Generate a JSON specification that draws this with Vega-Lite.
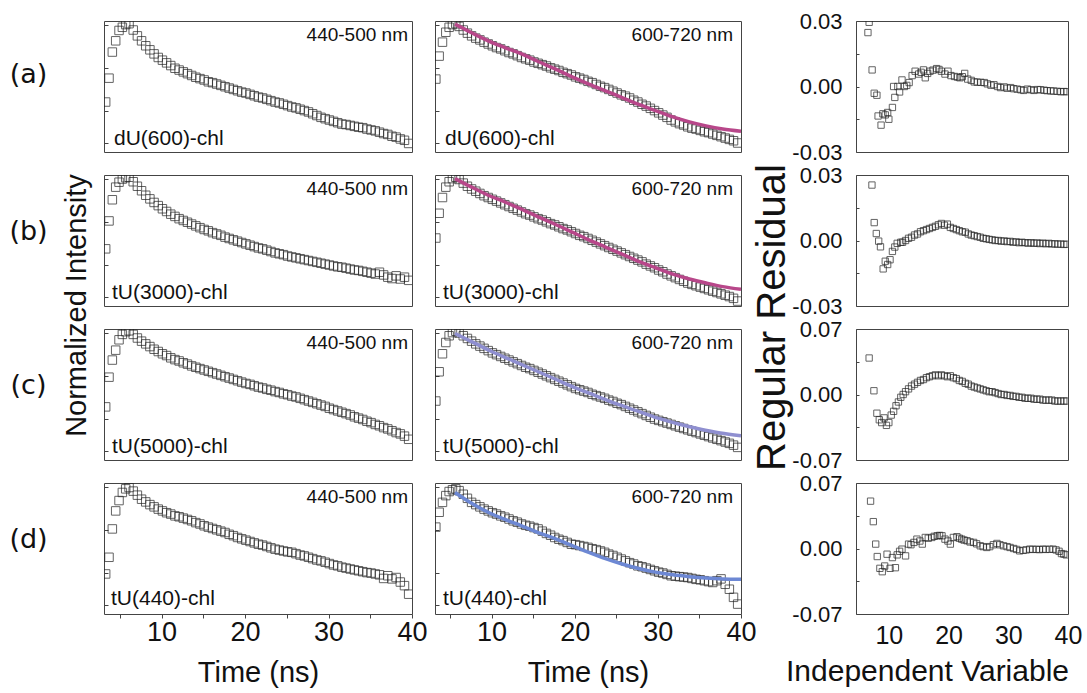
{
"$schema":"https://vega.github.io/schema/vega-lite/v6.json",
"padding":{"left":8,"top":9,"right":2,"bottom":0},
"background":"white",
"columns":4,
"bounds":"flush",
"align":"each",
"spacing":{"row":23,"column":23},
"config":{
 "font":"Liberation Sans",
 "view":{"stroke":"#444","strokeWidth":1},
 "axis":{"grid":false,"domain":false,"labelFlush":false,"labelColor":"#111","titleColor":"#111","tickColor":"#444","titleFontWeight":"normal","labelFont":"Liberation Sans","titleFont":"Liberation Sans"},
 "text":{"font":"Liberation Sans","color":"#111"}
},
"datasets":{
"a1":[{"t":3.3,"lgI":-1.8},{"t":3.7,"lgI":-1.27},{"t":4.1,"lgI":-0.69},{"t":4.5,"lgI":-0.44},{"t":4.9,"lgI":-0.21},{"t":5.3,"lgI":-0.14},{"t":5.7,"lgI":-0.08},{"t":6.1,"lgI":-0.06},{"t":6.6,"lgI":-0.2},{"t":7.1,"lgI":-0.33},{"t":7.6,"lgI":-0.44},{"t":8.1,"lgI":-0.55},{"t":8.6,"lgI":-0.64},{"t":9.1,"lgI":-0.73},{"t":9.6,"lgI":-0.81},{"t":10.1,"lgI":-0.87},{"t":10.6,"lgI":-0.93},{"t":11.1,"lgI":-0.99},{"t":11.6,"lgI":-1.05},{"t":12.1,"lgI":-1.09},{"t":12.6,"lgI":-1.13},{"t":13.1,"lgI":-1.17},{"t":13.6,"lgI":-1.21},{"t":14.1,"lgI":-1.25},{"t":14.6,"lgI":-1.28},{"t":15.1,"lgI":-1.31},{"t":15.6,"lgI":-1.35},{"t":16.1,"lgI":-1.37},{"t":16.6,"lgI":-1.4},{"t":17.1,"lgI":-1.43},{"t":17.6,"lgI":-1.46},{"t":18.1,"lgI":-1.49},{"t":18.6,"lgI":-1.52},{"t":19.1,"lgI":-1.55},{"t":19.6,"lgI":-1.58},{"t":20.1,"lgI":-1.6},{"t":20.6,"lgI":-1.63},{"t":21.1,"lgI":-1.66},{"t":21.6,"lgI":-1.69},{"t":22.1,"lgI":-1.71},{"t":22.6,"lgI":-1.74},{"t":23.1,"lgI":-1.77},{"t":23.6,"lgI":-1.8},{"t":24.1,"lgI":-1.82},{"t":24.6,"lgI":-1.85},{"t":25.1,"lgI":-1.88},{"t":25.6,"lgI":-1.91},{"t":26.1,"lgI":-1.93},{"t":26.6,"lgI":-1.96},{"t":27.1,"lgI":-1.99},{"t":27.6,"lgI":-2.02},{"t":28.1,"lgI":-2.06},{"t":28.6,"lgI":-2.1},{"t":29.1,"lgI":-2.14},{"t":29.6,"lgI":-2.17},{"t":30.1,"lgI":-2.2},{"t":30.6,"lgI":-2.23},{"t":31.1,"lgI":-2.26},{"t":31.6,"lgI":-2.29},{"t":32.1,"lgI":-2.3},{"t":32.6,"lgI":-2.32},{"t":33.1,"lgI":-2.34},{"t":33.6,"lgI":-2.36},{"t":34.1,"lgI":-2.37},{"t":34.6,"lgI":-2.4},{"t":35.1,"lgI":-2.42},{"t":35.6,"lgI":-2.44},{"t":36.1,"lgI":-2.47},{"t":36.6,"lgI":-2.5},{"t":37.1,"lgI":-2.52},{"t":37.6,"lgI":-2.56},{"t":38.1,"lgI":-2.58},{"t":38.6,"lgI":-2.62},{"t":39.1,"lgI":-2.65},{"t":39.6,"lgI":-2.72}],
"a2":[{"t":3.3,"lgI":-1.29},{"t":3.7,"lgI":-0.78},{"t":4.1,"lgI":-0.47},{"t":4.5,"lgI":-0.25},{"t":4.9,"lgI":-0.14},{"t":5.3,"lgI":-0.08},{"t":5.7,"lgI":-0.06},{"t":6.1,"lgI":-0.12},{"t":6.6,"lgI":-0.2},{"t":7.1,"lgI":-0.27},{"t":7.6,"lgI":-0.33},{"t":8.1,"lgI":-0.38},{"t":8.6,"lgI":-0.42},{"t":9.1,"lgI":-0.47},{"t":9.6,"lgI":-0.51},{"t":10.1,"lgI":-0.55},{"t":10.6,"lgI":-0.59},{"t":11.1,"lgI":-0.62},{"t":11.6,"lgI":-0.66},{"t":12.1,"lgI":-0.7},{"t":12.6,"lgI":-0.73},{"t":13.1,"lgI":-0.77},{"t":13.6,"lgI":-0.81},{"t":14.1,"lgI":-0.84},{"t":14.6,"lgI":-0.87},{"t":15.1,"lgI":-0.91},{"t":15.6,"lgI":-0.94},{"t":16.1,"lgI":-0.97},{"t":16.6,"lgI":-1.0},{"t":17.1,"lgI":-1.04},{"t":17.6,"lgI":-1.07},{"t":18.1,"lgI":-1.1},{"t":18.6,"lgI":-1.14},{"t":19.1,"lgI":-1.17},{"t":19.6,"lgI":-1.2},{"t":20.1,"lgI":-1.24},{"t":20.6,"lgI":-1.27},{"t":21.1,"lgI":-1.3},{"t":21.6,"lgI":-1.34},{"t":22.1,"lgI":-1.37},{"t":22.6,"lgI":-1.41},{"t":23.1,"lgI":-1.45},{"t":23.6,"lgI":-1.48},{"t":24.1,"lgI":-1.52},{"t":24.6,"lgI":-1.56},{"t":25.1,"lgI":-1.6},{"t":25.6,"lgI":-1.64},{"t":26.1,"lgI":-1.67},{"t":26.6,"lgI":-1.71},{"t":27.1,"lgI":-1.76},{"t":27.6,"lgI":-1.8},{"t":28.1,"lgI":-1.85},{"t":28.6,"lgI":-1.89},{"t":29.1,"lgI":-1.94},{"t":29.6,"lgI":-1.99},{"t":30.1,"lgI":-2.04},{"t":30.6,"lgI":-2.09},{"t":31.1,"lgI":-2.14},{"t":31.6,"lgI":-2.2},{"t":32.1,"lgI":-2.24},{"t":32.6,"lgI":-2.28},{"t":33.1,"lgI":-2.31},{"t":33.6,"lgI":-2.35},{"t":34.1,"lgI":-2.38},{"t":34.6,"lgI":-2.4},{"t":35.1,"lgI":-2.43},{"t":35.6,"lgI":-2.46},{"t":36.1,"lgI":-2.48},{"t":36.6,"lgI":-2.51},{"t":37.1,"lgI":-2.54},{"t":37.6,"lgI":-2.57},{"t":38.1,"lgI":-2.6},{"t":38.6,"lgI":-2.63},{"t":39.1,"lgI":-2.66},{"t":39.6,"lgI":-2.71}],
"a2fit":[{"t":5.6,"lgI":-0.07},{"t":7.6,"lgI":-0.26},{"t":9.6,"lgI":-0.44},{"t":11.6,"lgI":-0.59},{"t":13.6,"lgI":-0.73},{"t":15.6,"lgI":-0.9},{"t":17.7,"lgI":-1.07},{"t":19.7,"lgI":-1.24},{"t":21.7,"lgI":-1.4},{"t":23.7,"lgI":-1.55},{"t":25.7,"lgI":-1.7},{"t":27.7,"lgI":-1.85},{"t":29.7,"lgI":-1.99},{"t":31.8,"lgI":-2.13},{"t":33.8,"lgI":-2.24},{"t":35.8,"lgI":-2.33},{"t":37.8,"lgI":-2.4},{"t":40,"lgI":-2.45}],
"b1":[{"t":3.3,"lgI":-1.64},{"t":3.7,"lgI":-1.02},{"t":4.1,"lgI":-0.55},{"t":4.5,"lgI":-0.27},{"t":4.9,"lgI":-0.16},{"t":5.3,"lgI":-0.09},{"t":5.7,"lgI":-0.06},{"t":6.1,"lgI":-0.05},{"t":6.6,"lgI":-0.15},{"t":7.1,"lgI":-0.25},{"t":7.6,"lgI":-0.35},{"t":8.1,"lgI":-0.45},{"t":8.6,"lgI":-0.53},{"t":9.1,"lgI":-0.61},{"t":9.6,"lgI":-0.68},{"t":10.1,"lgI":-0.75},{"t":10.6,"lgI":-0.81},{"t":11.1,"lgI":-0.87},{"t":11.6,"lgI":-0.92},{"t":12.1,"lgI":-0.97},{"t":12.6,"lgI":-1.01},{"t":13.1,"lgI":-1.05},{"t":13.6,"lgI":-1.09},{"t":14.1,"lgI":-1.13},{"t":14.6,"lgI":-1.17},{"t":15.1,"lgI":-1.21},{"t":15.6,"lgI":-1.24},{"t":16.1,"lgI":-1.28},{"t":16.6,"lgI":-1.31},{"t":17.1,"lgI":-1.34},{"t":17.6,"lgI":-1.38},{"t":18.1,"lgI":-1.41},{"t":18.6,"lgI":-1.44},{"t":19.1,"lgI":-1.47},{"t":19.6,"lgI":-1.5},{"t":20.1,"lgI":-1.53},{"t":20.6,"lgI":-1.56},{"t":21.1,"lgI":-1.59},{"t":21.6,"lgI":-1.62},{"t":22.1,"lgI":-1.64},{"t":22.6,"lgI":-1.67},{"t":23.1,"lgI":-1.7},{"t":23.6,"lgI":-1.73},{"t":24.1,"lgI":-1.75},{"t":24.6,"lgI":-1.77},{"t":25.1,"lgI":-1.8},{"t":25.6,"lgI":-1.82},{"t":26.1,"lgI":-1.84},{"t":26.6,"lgI":-1.86},{"t":27.1,"lgI":-1.88},{"t":27.6,"lgI":-1.9},{"t":28.1,"lgI":-1.92},{"t":28.6,"lgI":-1.94},{"t":29.1,"lgI":-1.96},{"t":29.6,"lgI":-1.98},{"t":30.1,"lgI":-2.0},{"t":30.6,"lgI":-2.02},{"t":31.1,"lgI":-2.04},{"t":31.6,"lgI":-2.05},{"t":32.1,"lgI":-2.07},{"t":32.6,"lgI":-2.09},{"t":33.1,"lgI":-2.11},{"t":33.6,"lgI":-2.12},{"t":34.1,"lgI":-2.14},{"t":34.6,"lgI":-2.16},{"t":35.1,"lgI":-2.18},{"t":35.6,"lgI":-2.2},{"t":36.1,"lgI":-2.16},{"t":36.6,"lgI":-2.22},{"t":37.1,"lgI":-2.27},{"t":37.6,"lgI":-2.3},{"t":38.1,"lgI":-2.24},{"t":38.6,"lgI":-2.31},{"t":39.1,"lgI":-2.27},{"t":39.6,"lgI":-2.34}],
"b2":[{"t":3.3,"lgI":-1.4},{"t":3.7,"lgI":-0.85},{"t":4.1,"lgI":-0.5},{"t":4.5,"lgI":-0.27},{"t":4.9,"lgI":-0.15},{"t":5.3,"lgI":-0.08},{"t":5.7,"lgI":-0.05},{"t":6.1,"lgI":-0.1},{"t":6.6,"lgI":-0.18},{"t":7.1,"lgI":-0.25},{"t":7.6,"lgI":-0.31},{"t":8.1,"lgI":-0.36},{"t":8.6,"lgI":-0.41},{"t":9.1,"lgI":-0.46},{"t":9.6,"lgI":-0.5},{"t":10.1,"lgI":-0.54},{"t":10.6,"lgI":-0.58},{"t":11.1,"lgI":-0.62},{"t":11.6,"lgI":-0.66},{"t":12.1,"lgI":-0.7},{"t":12.6,"lgI":-0.74},{"t":13.1,"lgI":-0.78},{"t":13.6,"lgI":-0.82},{"t":14.1,"lgI":-0.86},{"t":14.6,"lgI":-0.89},{"t":15.1,"lgI":-0.93},{"t":15.6,"lgI":-0.97},{"t":16.1,"lgI":-1.0},{"t":16.6,"lgI":-1.04},{"t":17.1,"lgI":-1.08},{"t":17.6,"lgI":-1.11},{"t":18.1,"lgI":-1.15},{"t":18.6,"lgI":-1.19},{"t":19.1,"lgI":-1.22},{"t":19.6,"lgI":-1.26},{"t":20.1,"lgI":-1.3},{"t":20.6,"lgI":-1.34},{"t":21.1,"lgI":-1.37},{"t":21.6,"lgI":-1.41},{"t":22.1,"lgI":-1.45},{"t":22.6,"lgI":-1.49},{"t":23.1,"lgI":-1.53},{"t":23.6,"lgI":-1.57},{"t":24.1,"lgI":-1.61},{"t":24.6,"lgI":-1.65},{"t":25.1,"lgI":-1.69},{"t":25.6,"lgI":-1.73},{"t":26.1,"lgI":-1.77},{"t":26.6,"lgI":-1.81},{"t":27.1,"lgI":-1.85},{"t":27.6,"lgI":-1.89},{"t":28.1,"lgI":-1.93},{"t":28.6,"lgI":-1.98},{"t":29.1,"lgI":-2.02},{"t":29.6,"lgI":-2.06},{"t":30.1,"lgI":-2.11},{"t":30.6,"lgI":-2.15},{"t":31.1,"lgI":-2.2},{"t":31.6,"lgI":-2.24},{"t":32.1,"lgI":-2.28},{"t":32.6,"lgI":-2.32},{"t":33.1,"lgI":-2.36},{"t":33.6,"lgI":-2.4},{"t":34.1,"lgI":-2.43},{"t":34.6,"lgI":-2.46},{"t":35.1,"lgI":-2.49},{"t":35.6,"lgI":-2.52},{"t":36.1,"lgI":-2.55},{"t":36.6,"lgI":-2.58},{"t":37.1,"lgI":-2.61},{"t":37.6,"lgI":-2.64},{"t":38.1,"lgI":-2.67},{"t":38.6,"lgI":-2.7},{"t":39.1,"lgI":-2.74},{"t":39.6,"lgI":-2.8}],
"b2fit":[{"t":5.6,"lgI":-0.08},{"t":7.6,"lgI":-0.27},{"t":9.6,"lgI":-0.45},{"t":11.6,"lgI":-0.6},{"t":13.6,"lgI":-0.76},{"t":15.6,"lgI":-0.93},{"t":17.7,"lgI":-1.1},{"t":19.7,"lgI":-1.27},{"t":21.7,"lgI":-1.44},{"t":23.7,"lgI":-1.6},{"t":25.7,"lgI":-1.76},{"t":27.7,"lgI":-1.92},{"t":29.7,"lgI":-2.06},{"t":31.8,"lgI":-2.2},{"t":33.8,"lgI":-2.31},{"t":35.8,"lgI":-2.4},{"t":37.8,"lgI":-2.48},{"t":40,"lgI":-2.54}],
"c1":[{"t":3.3,"lgI":-1.73},{"t":3.7,"lgI":-1.07},{"t":4.1,"lgI":-0.69},{"t":4.5,"lgI":-0.47},{"t":4.9,"lgI":-0.24},{"t":5.3,"lgI":-0.12},{"t":5.7,"lgI":-0.06},{"t":6.1,"lgI":-0.04},{"t":6.6,"lgI":-0.12},{"t":7.1,"lgI":-0.2},{"t":7.6,"lgI":-0.27},{"t":8.1,"lgI":-0.33},{"t":8.6,"lgI":-0.39},{"t":9.1,"lgI":-0.45},{"t":9.6,"lgI":-0.5},{"t":10.1,"lgI":-0.55},{"t":10.6,"lgI":-0.59},{"t":11.1,"lgI":-0.64},{"t":11.6,"lgI":-0.68},{"t":12.1,"lgI":-0.71},{"t":12.6,"lgI":-0.75},{"t":13.1,"lgI":-0.78},{"t":13.6,"lgI":-0.82},{"t":14.1,"lgI":-0.85},{"t":14.6,"lgI":-0.88},{"t":15.1,"lgI":-0.91},{"t":15.6,"lgI":-0.94},{"t":16.1,"lgI":-0.97},{"t":16.6,"lgI":-1.0},{"t":17.1,"lgI":-1.03},{"t":17.6,"lgI":-1.06},{"t":18.1,"lgI":-1.09},{"t":18.6,"lgI":-1.12},{"t":19.1,"lgI":-1.15},{"t":19.6,"lgI":-1.18},{"t":20.1,"lgI":-1.21},{"t":20.6,"lgI":-1.23},{"t":21.1,"lgI":-1.26},{"t":21.6,"lgI":-1.29},{"t":22.1,"lgI":-1.31},{"t":22.6,"lgI":-1.34},{"t":23.1,"lgI":-1.36},{"t":23.6,"lgI":-1.39},{"t":24.1,"lgI":-1.41},{"t":24.6,"lgI":-1.44},{"t":25.1,"lgI":-1.46},{"t":25.6,"lgI":-1.49},{"t":26.1,"lgI":-1.51},{"t":26.6,"lgI":-1.54},{"t":27.1,"lgI":-1.57},{"t":27.6,"lgI":-1.6},{"t":28.1,"lgI":-1.63},{"t":28.6,"lgI":-1.66},{"t":29.1,"lgI":-1.69},{"t":29.6,"lgI":-1.72},{"t":30.1,"lgI":-1.76},{"t":30.6,"lgI":-1.79},{"t":31.1,"lgI":-1.82},{"t":31.6,"lgI":-1.85},{"t":32.1,"lgI":-1.88},{"t":32.6,"lgI":-1.91},{"t":33.1,"lgI":-1.95},{"t":33.6,"lgI":-1.98},{"t":34.1,"lgI":-2.01},{"t":34.6,"lgI":-2.05},{"t":35.1,"lgI":-2.08},{"t":35.6,"lgI":-2.12},{"t":36.1,"lgI":-2.15},{"t":36.6,"lgI":-2.19},{"t":37.1,"lgI":-2.22},{"t":37.6,"lgI":-2.26},{"t":38.1,"lgI":-2.3},{"t":38.6,"lgI":-2.33},{"t":39.1,"lgI":-2.38},{"t":39.6,"lgI":-2.45}],
"c2":[{"t":3.3,"lgI":-1.6},{"t":3.7,"lgI":-0.95},{"t":4.1,"lgI":-0.55},{"t":4.5,"lgI":-0.3},{"t":4.9,"lgI":-0.15},{"t":5.3,"lgI":-0.08},{"t":5.7,"lgI":-0.05},{"t":6.1,"lgI":-0.09},{"t":6.6,"lgI":-0.15},{"t":7.1,"lgI":-0.21},{"t":7.6,"lgI":-0.27},{"t":8.1,"lgI":-0.33},{"t":8.6,"lgI":-0.38},{"t":9.1,"lgI":-0.43},{"t":9.6,"lgI":-0.48},{"t":10.1,"lgI":-0.53},{"t":10.6,"lgI":-0.57},{"t":11.1,"lgI":-0.61},{"t":11.6,"lgI":-0.65},{"t":12.1,"lgI":-0.69},{"t":12.6,"lgI":-0.73},{"t":13.1,"lgI":-0.77},{"t":13.6,"lgI":-0.81},{"t":14.1,"lgI":-0.85},{"t":14.6,"lgI":-0.88},{"t":15.1,"lgI":-0.92},{"t":15.6,"lgI":-0.96},{"t":16.1,"lgI":-1.0},{"t":16.6,"lgI":-1.04},{"t":17.1,"lgI":-1.08},{"t":17.6,"lgI":-1.12},{"t":18.1,"lgI":-1.16},{"t":18.6,"lgI":-1.2},{"t":19.1,"lgI":-1.24},{"t":19.6,"lgI":-1.28},{"t":20.1,"lgI":-1.32},{"t":20.6,"lgI":-1.35},{"t":21.1,"lgI":-1.38},{"t":21.6,"lgI":-1.41},{"t":22.1,"lgI":-1.45},{"t":22.6,"lgI":-1.48},{"t":23.1,"lgI":-1.51},{"t":23.6,"lgI":-1.54},{"t":24.1,"lgI":-1.58},{"t":24.6,"lgI":-1.61},{"t":25.1,"lgI":-1.65},{"t":25.6,"lgI":-1.68},{"t":26.1,"lgI":-1.72},{"t":26.6,"lgI":-1.76},{"t":27.1,"lgI":-1.8},{"t":27.6,"lgI":-1.84},{"t":28.1,"lgI":-1.88},{"t":28.6,"lgI":-1.92},{"t":29.1,"lgI":-1.96},{"t":29.6,"lgI":-2.0},{"t":30.1,"lgI":-2.03},{"t":30.6,"lgI":-2.06},{"t":31.1,"lgI":-2.09},{"t":31.6,"lgI":-2.12},{"t":32.1,"lgI":-2.15},{"t":32.6,"lgI":-2.18},{"t":33.1,"lgI":-2.21},{"t":33.6,"lgI":-2.24},{"t":34.1,"lgI":-2.27},{"t":34.6,"lgI":-2.3},{"t":35.1,"lgI":-2.33},{"t":35.6,"lgI":-2.36},{"t":36.1,"lgI":-2.39},{"t":36.6,"lgI":-2.42},{"t":37.1,"lgI":-2.45},{"t":37.6,"lgI":-2.48},{"t":38.1,"lgI":-2.51},{"t":38.6,"lgI":-2.54},{"t":39.1,"lgI":-2.58},{"t":39.6,"lgI":-2.63}],
"c2fit":[{"t":5.6,"lgI":-0.1},{"t":7.6,"lgI":-0.28},{"t":10,"lgI":-0.5},{"t":12.5,"lgI":-0.7},{"t":15,"lgI":-0.9},{"t":17.5,"lgI":-1.1},{"t":20,"lgI":-1.3},{"t":22.5,"lgI":-1.48},{"t":25,"lgI":-1.66},{"t":27.5,"lgI":-1.82},{"t":30,"lgI":-1.98},{"t":32.5,"lgI":-2.11},{"t":35,"lgI":-2.22},{"t":37.5,"lgI":-2.31},{"t":40,"lgI":-2.37}],
"d1":[{"t":3.3,"lgI":-2.02},{"t":3.7,"lgI":-1.65},{"t":4.1,"lgI":-1.02},{"t":4.5,"lgI":-0.62},{"t":4.9,"lgI":-0.39},{"t":5.3,"lgI":-0.21},{"t":5.7,"lgI":-0.13},{"t":6.1,"lgI":-0.1},{"t":6.6,"lgI":-0.18},{"t":7.1,"lgI":-0.27},{"t":7.6,"lgI":-0.36},{"t":8.1,"lgI":-0.42},{"t":8.6,"lgI":-0.48},{"t":9.1,"lgI":-0.53},{"t":9.6,"lgI":-0.58},{"t":10.1,"lgI":-0.62},{"t":10.6,"lgI":-0.66},{"t":11.1,"lgI":-0.69},{"t":11.6,"lgI":-0.73},{"t":12.1,"lgI":-0.75},{"t":12.6,"lgI":-0.78},{"t":13.1,"lgI":-0.81},{"t":13.6,"lgI":-0.84},{"t":14.1,"lgI":-0.88},{"t":14.6,"lgI":-0.91},{"t":15.1,"lgI":-0.95},{"t":15.6,"lgI":-0.98},{"t":16.1,"lgI":-1.01},{"t":16.6,"lgI":-1.04},{"t":17.1,"lgI":-1.07},{"t":17.6,"lgI":-1.1},{"t":18.1,"lgI":-1.14},{"t":18.6,"lgI":-1.17},{"t":19.1,"lgI":-1.21},{"t":19.6,"lgI":-1.24},{"t":20.1,"lgI":-1.27},{"t":20.6,"lgI":-1.3},{"t":21.1,"lgI":-1.33},{"t":21.6,"lgI":-1.36},{"t":22.1,"lgI":-1.38},{"t":22.6,"lgI":-1.41},{"t":23.1,"lgI":-1.44},{"t":23.6,"lgI":-1.47},{"t":24.1,"lgI":-1.49},{"t":24.6,"lgI":-1.51},{"t":25.1,"lgI":-1.53},{"t":25.6,"lgI":-1.54},{"t":26.1,"lgI":-1.57},{"t":26.6,"lgI":-1.6},{"t":27.1,"lgI":-1.62},{"t":27.6,"lgI":-1.65},{"t":28.1,"lgI":-1.68},{"t":28.6,"lgI":-1.71},{"t":29.1,"lgI":-1.73},{"t":29.6,"lgI":-1.76},{"t":30.1,"lgI":-1.79},{"t":30.6,"lgI":-1.82},{"t":31.1,"lgI":-1.84},{"t":31.6,"lgI":-1.87},{"t":32.1,"lgI":-1.89},{"t":32.6,"lgI":-1.91},{"t":33.1,"lgI":-1.93},{"t":33.6,"lgI":-1.95},{"t":34.1,"lgI":-1.97},{"t":34.6,"lgI":-1.99},{"t":35.1,"lgI":-2.0},{"t":35.6,"lgI":-2.02},{"t":36.1,"lgI":-2.04},{"t":36.6,"lgI":-2.12},{"t":37.1,"lgI":-2.06},{"t":37.6,"lgI":-2.13},{"t":38.1,"lgI":-2.1},{"t":38.6,"lgI":-2.2},{"t":39.1,"lgI":-2.28},{"t":39.6,"lgI":-2.47}],
"d2":[{"t":3.3,"lgI":-0.98},{"t":3.7,"lgI":-0.65},{"t":4.1,"lgI":-0.43},{"t":4.5,"lgI":-0.28},{"t":4.9,"lgI":-0.19},{"t":5.3,"lgI":-0.15},{"t":5.7,"lgI":-0.13},{"t":6.1,"lgI":-0.17},{"t":6.6,"lgI":-0.25},{"t":7.1,"lgI":-0.34},{"t":7.6,"lgI":-0.43},{"t":8.1,"lgI":-0.48},{"t":8.6,"lgI":-0.53},{"t":9.1,"lgI":-0.58},{"t":9.6,"lgI":-0.62},{"t":10.1,"lgI":-0.66},{"t":10.6,"lgI":-0.69},{"t":11.1,"lgI":-0.73},{"t":11.6,"lgI":-0.76},{"t":12.1,"lgI":-0.8},{"t":12.6,"lgI":-0.84},{"t":13.1,"lgI":-0.87},{"t":13.6,"lgI":-0.91},{"t":14.1,"lgI":-0.94},{"t":14.6,"lgI":-0.96},{"t":15.1,"lgI":-0.99},{"t":15.6,"lgI":-1.02},{"t":16.1,"lgI":-1.07},{"t":16.6,"lgI":-1.12},{"t":17.1,"lgI":-1.16},{"t":17.6,"lgI":-1.21},{"t":18.1,"lgI":-1.25},{"t":18.6,"lgI":-1.28},{"t":19.1,"lgI":-1.32},{"t":19.6,"lgI":-1.36},{"t":20.1,"lgI":-1.37},{"t":20.6,"lgI":-1.39},{"t":21.1,"lgI":-1.41},{"t":21.6,"lgI":-1.43},{"t":22.1,"lgI":-1.46},{"t":22.6,"lgI":-1.48},{"t":23.1,"lgI":-1.51},{"t":23.6,"lgI":-1.54},{"t":24.1,"lgI":-1.58},{"t":24.6,"lgI":-1.61},{"t":25.1,"lgI":-1.65},{"t":25.6,"lgI":-1.69},{"t":26.1,"lgI":-1.73},{"t":26.6,"lgI":-1.77},{"t":27.1,"lgI":-1.8},{"t":27.6,"lgI":-1.84},{"t":28.1,"lgI":-1.86},{"t":28.6,"lgI":-1.89},{"t":29.1,"lgI":-1.92},{"t":29.6,"lgI":-1.95},{"t":30.1,"lgI":-1.98},{"t":30.6,"lgI":-2.0},{"t":31.1,"lgI":-2.03},{"t":31.6,"lgI":-2.06},{"t":32.1,"lgI":-2.07},{"t":32.6,"lgI":-2.08},{"t":33.1,"lgI":-2.09},{"t":33.6,"lgI":-2.1},{"t":34.1,"lgI":-2.12},{"t":34.6,"lgI":-2.14},{"t":35.1,"lgI":-2.15},{"t":35.6,"lgI":-2.17},{"t":36.1,"lgI":-2.19},{"t":36.6,"lgI":-2.21},{"t":37.1,"lgI":-2.17},{"t":37.6,"lgI":-2.13},{"t":38.1,"lgI":-2.25},{"t":38.6,"lgI":-2.36},{"t":39.1,"lgI":-2.54},{"t":39.6,"lgI":-2.69}],
"d2fit":[{"t":5.6,"lgI":-0.21},{"t":7.6,"lgI":-0.45},{"t":9.6,"lgI":-0.65},{"t":11.6,"lgI":-0.81},{"t":13.6,"lgI":-0.95},{"t":15.6,"lgI":-1.1},{"t":17.7,"lgI":-1.24},{"t":19.7,"lgI":-1.39},{"t":21.7,"lgI":-1.54},{"t":23.7,"lgI":-1.68},{"t":25.7,"lgI":-1.8},{"t":27.7,"lgI":-1.9},{"t":29.7,"lgI":-1.98},{"t":31.8,"lgI":-2.04},{"t":33.8,"lgI":-2.08},{"t":35.8,"lgI":-2.11},{"t":37.8,"lgI":-2.13},{"t":40,"lgI":-2.14}],
"a3":[{"t":6.5,"res":0.0247},{"t":6.7,"res":0.0294},{"t":7.2,"res":0.0076},{"t":7.55,"res":-0.0031},{"t":8.0,"res":-0.004},{"t":8.2,"res":-0.0135},{"t":8.7,"res":-0.0177},{"t":9.0,"res":-0.0125},{"t":9.4,"res":-0.013},{"t":9.8,"res":-0.0119},{"t":10.0,"res":-0.015},{"t":10.6,"res":-0.0096},{"t":10.8,"res":0.0},{"t":11.0,"res":-0.005},{"t":11.5,"res":0.0},{"t":11.8,"res":-0.0025},{"t":12.2,"res":0.003},{"t":12.6,"res":0.0},{"t":13.0,"res":0.0005},{"t":13.4,"res":0.0018},{"t":13.9,"res":0.005},{"t":14.4,"res":0.007},{"t":15.0,"res":0.0057},{"t":15.4,"res":0.0065},{"t":15.8,"res":0.0076},{"t":16.1,"res":0.004},{"t":16.5,"res":0.006},{"t":16.9,"res":0.007},{"t":17.4,"res":0.0075},{"t":18.0,"res":0.0082},{"t":18.4,"res":0.0078},{"t":18.8,"res":0.007},{"t":19.4,"res":0.0057},{"t":19.9,"res":0.007},{"t":20.4,"res":0.005},{"t":21.0,"res":0.0046},{"t":21.5,"res":0.0043},{"t":21.9,"res":0.004},{"t":22.3,"res":0.0045},{"t":22.7,"res":0.006},{"t":23.2,"res":0.0034},{"t":23.8,"res":0.0028},{"t":24.3,"res":0.0021},{"t":24.8,"res":0.002},{"t":25.4,"res":0.0019},{"t":26.0,"res":0.0018},{"t":26.5,"res":0.0012},{"t":27.1,"res":0.0006},{"t":27.6,"res":0.0008},{"t":28.2,"res":0.0},{"t":28.7,"res":-0.0005},{"t":29.3,"res":-0.0002},{"t":29.8,"res":-0.0008},{"t":30.4,"res":-0.0005},{"t":30.9,"res":-0.001},{"t":31.5,"res":-0.0012},{"t":32.1,"res":-0.0015},{"t":32.6,"res":-0.0018},{"t":33.2,"res":-0.0012},{"t":33.8,"res":-0.0015},{"t":34.3,"res":-0.0018},{"t":34.9,"res":-0.0014},{"t":35.4,"res":-0.0015},{"t":36.0,"res":-0.0017},{"t":36.5,"res":-0.0019},{"t":37.1,"res":-0.002},{"t":37.6,"res":-0.0021},{"t":38.2,"res":-0.0022},{"t":38.8,"res":-0.0024},{"t":39.3,"res":-0.0023},{"t":39.8,"res":-0.0024}],
"b3":[{"t":7.17,"res":0.0254},{"t":7.55,"res":0.0082},{"t":7.9,"res":0.0032},{"t":8.3,"res":-0.0003},{"t":8.6,"res":-0.0029},{"t":9.05,"res":-0.013},{"t":9.4,"res":-0.0095},{"t":9.8,"res":-0.011},{"t":10.2,"res":-0.0088},{"t":10.6,"res":-0.005},{"t":11.0,"res":-0.003},{"t":11.4,"res":-0.0013},{"t":12.0,"res":-0.0008},{"t":12.3,"res":-0.0008},{"t":12.8,"res":0.0},{"t":13.3,"res":0.001},{"t":13.8,"res":0.0015},{"t":14.3,"res":0.0025},{"t":14.8,"res":0.003},{"t":15.3,"res":0.004},{"t":15.8,"res":0.0045},{"t":16.3,"res":0.005},{"t":16.8,"res":0.0055},{"t":17.3,"res":0.006},{"t":17.8,"res":0.0065},{"t":18.3,"res":0.0072},{"t":18.8,"res":0.0078},{"t":19.3,"res":0.007},{"t":19.8,"res":0.0075},{"t":20.3,"res":0.006},{"t":20.8,"res":0.0055},{"t":21.3,"res":0.005},{"t":21.8,"res":0.0045},{"t":22.3,"res":0.004},{"t":22.8,"res":0.0038},{"t":23.3,"res":0.003},{"t":23.8,"res":0.0025},{"t":24.3,"res":0.0022},{"t":24.8,"res":0.0018},{"t":25.3,"res":0.0015},{"t":25.8,"res":0.001},{"t":26.3,"res":0.0008},{"t":26.8,"res":0.0005},{"t":27.3,"res":0.0003},{"t":27.8,"res":0.0},{"t":28.3,"res":0.0},{"t":28.8,"res":-0.0003},{"t":29.3,"res":-0.0002},{"t":29.8,"res":-0.0005},{"t":30.3,"res":-0.0004},{"t":30.8,"res":-0.0008},{"t":31.3,"res":-0.0006},{"t":31.8,"res":-0.001},{"t":32.3,"res":-0.0008},{"t":32.8,"res":-0.001},{"t":33.3,"res":-0.0012},{"t":33.8,"res":-0.001},{"t":34.3,"res":-0.0013},{"t":34.8,"res":-0.0011},{"t":35.3,"res":-0.0014},{"t":35.8,"res":-0.0012},{"t":36.3,"res":-0.0015},{"t":36.8,"res":-0.0013},{"t":37.3,"res":-0.0016},{"t":37.8,"res":-0.0015},{"t":38.3,"res":-0.0017},{"t":38.8,"res":-0.0016},{"t":39.3,"res":-0.0018},{"t":39.8,"res":-0.0017}],
"c3":[{"t":6.7,"res":0.039},{"t":7.5,"res":0.004},{"t":8.0,"res":-0.02},{"t":8.4,"res":-0.027},{"t":8.8,"res":-0.03},{"t":9.2,"res":-0.025},{"t":9.6,"res":-0.033},{"t":10.0,"res":-0.03},{"t":10.4,"res":-0.022},{"t":10.8,"res":-0.018},{"t":11.2,"res":-0.012},{"t":11.6,"res":-0.008},{"t":12.0,"res":-0.003},{"t":12.4,"res":0.0},{"t":12.8,"res":0.003},{"t":13.3,"res":0.006},{"t":13.8,"res":0.009},{"t":14.3,"res":0.011},{"t":14.8,"res":0.013},{"t":15.3,"res":0.015},{"t":15.8,"res":0.016},{"t":16.3,"res":0.018},{"t":16.8,"res":0.019},{"t":17.3,"res":0.02},{"t":17.8,"res":0.021},{"t":18.3,"res":0.02},{"t":18.8,"res":0.021},{"t":19.3,"res":0.02},{"t":19.8,"res":0.019},{"t":20.3,"res":0.02},{"t":20.8,"res":0.018},{"t":21.3,"res":0.017},{"t":21.8,"res":0.015},{"t":22.3,"res":0.014},{"t":22.8,"res":0.012},{"t":23.3,"res":0.011},{"t":23.8,"res":0.009},{"t":24.3,"res":0.008},{"t":24.8,"res":0.007},{"t":25.3,"res":0.006},{"t":25.8,"res":0.005},{"t":26.3,"res":0.004},{"t":26.8,"res":0.003},{"t":27.3,"res":0.003},{"t":27.8,"res":0.002},{"t":28.3,"res":0.001},{"t":28.8,"res":0.0},{"t":29.3,"res":0.0},{"t":29.8,"res":-0.001},{"t":30.3,"res":-0.001},{"t":30.8,"res":-0.002},{"t":31.3,"res":-0.002},{"t":31.8,"res":-0.003},{"t":32.3,"res":-0.003},{"t":32.8,"res":-0.004},{"t":33.3,"res":-0.004},{"t":33.8,"res":-0.004},{"t":34.3,"res":-0.005},{"t":34.8,"res":-0.005},{"t":35.3,"res":-0.005},{"t":35.8,"res":-0.006},{"t":36.3,"res":-0.006},{"t":36.8,"res":-0.006},{"t":37.3,"res":-0.006},{"t":37.8,"res":-0.007},{"t":38.3,"res":-0.007},{"t":38.8,"res":-0.007},{"t":39.3,"res":-0.007},{"t":39.8,"res":-0.007}],
"d3":[{"t":6.94,"res":0.0506},{"t":7.4,"res":0.0287},{"t":7.8,"res":0.0047},{"t":8.06,"res":-0.0086},{"t":8.5,"res":-0.0212},{"t":8.9,"res":-0.0248},{"t":9.3,"res":-0.0187},{"t":9.7,"res":-0.0061},{"t":10.2,"res":-0.0212},{"t":10.6,"res":-0.0097},{"t":11.1,"res":-0.0205},{"t":11.4,"res":-0.0068},{"t":11.8,"res":-0.003},{"t":12.2,"res":-0.0007},{"t":12.8,"res":-0.0079},{"t":13.3,"res":0.0047},{"t":13.7,"res":0.004},{"t":14.2,"res":0.0065},{"t":14.7,"res":0.01},{"t":15.2,"res":0.008},{"t":15.6,"res":0.0047},{"t":16.1,"res":0.0118},{"t":16.6,"res":0.011},{"t":17.2,"res":0.0118},{"t":17.6,"res":0.013},{"t":18.1,"res":0.0136},{"t":18.5,"res":0.014},{"t":18.9,"res":0.0136},{"t":19.4,"res":0.01},{"t":19.9,"res":0.008},{"t":20.3,"res":0.0047},{"t":20.8,"res":0.0118},{"t":21.4,"res":0.0126},{"t":21.8,"res":0.011},{"t":22.2,"res":0.01},{"t":22.6,"res":0.009},{"t":23.1,"res":0.0083},{"t":23.6,"res":0.007},{"t":24.2,"res":0.0065},{"t":24.7,"res":0.005},{"t":25.3,"res":0.0029},{"t":25.8,"res":0.002},{"t":26.4,"res":0.0011},{"t":26.9,"res":0.002},{"t":27.5,"res":0.004},{"t":28.1,"res":0.0054},{"t":28.6,"res":0.004},{"t":29.2,"res":0.0029},{"t":29.8,"res":0.002},{"t":30.3,"res":0.0011},{"t":30.9,"res":0.0},{"t":31.4,"res":-0.001},{"t":31.9,"res":-0.0025},{"t":32.5,"res":-0.002},{"t":33.0,"res":-0.0015},{"t":33.6,"res":-0.0007},{"t":34.1,"res":-0.001},{"t":34.7,"res":-0.0008},{"t":35.2,"res":-0.0012},{"t":35.8,"res":-0.0007},{"t":36.3,"res":-0.001},{"t":36.9,"res":-0.0008},{"t":37.5,"res":-0.0007},{"t":38.0,"res":-0.0015},{"t":38.5,"res":-0.003},{"t":38.9,"res":-0.0054},{"t":39.3,"res":-0.006},{"t":39.7,"res":-0.0068}]
},
"concat":[
{"width":308,"height":131,"layer":[
 {"data":{"name":"a1"},"mark":{"type":"point","shape":"square","filled":false,"size":72,"stroke":"#222","strokeWidth":1,"clip":true},
  "encoding":{"x":{"field":"t","type":"quantitative","scale":{"domain":[3.1,40],"nice":false,"zero":false},"axis":null},
   "y":{"field":"lgI","type":"quantitative","scale":{"domain":[-2.91,0],"nice":false,"zero":false},"axis":{"values":[0,-0.046,-0.097,-0.155,-0.222,-0.301,-0.398,-0.523,-0.699,-1,-1.046,-1.097,-1.155,-1.222,-1.301,-1.398,-1.523,-1.699,-2,-2.046,-2.097,-2.155,-2.222,-2.301,-2.398,-2.523,-2.699],"labels":false,"tickSize":-4,"title":"(a)","titleAngle":0,"titleX":-76,"titleY":53,"titleAlign":"center","titleBaseline":"middle","titleFontSize":27,"titleFont":"DejaVu Sans"}}}},
 {"data":{"values":[{"label":"440-500 nm"}]},"mark":{"type":"text","align":"right","baseline":"top","dx":-4,"dy":5,"fontSize":19},
  "encoding":{"x":{"datum":40,"type":"quantitative","axis":null},"y":{"datum":0,"type":"quantitative"},"text":{"field":"label"}}},
 {"data":{"values":[{"label":"dU(600)-chl"}]},"mark":{"type":"text","align":"left","baseline":"alphabetic","dx":10,"dy":-7,"fontSize":21},
  "encoding":{"x":{"datum":3.1,"type":"quantitative","axis":null},"y":{"datum":-2.91,"type":"quantitative"},"text":{"field":"label"}}}
]},
{"width":306,"height":131,"layer":[
 {"data":{"name":"a2"},"mark":{"type":"point","shape":"square","filled":false,"size":72,"stroke":"#222","strokeWidth":1,"clip":true},
  "encoding":{"x":{"field":"t","type":"quantitative","scale":{"domain":[3.2,40],"nice":false,"zero":false},"axis":null},
   "y":{"field":"lgI","type":"quantitative","scale":{"domain":[-2.91,0],"nice":false,"zero":false},"axis":{"values":[0,-0.046,-0.097,-0.155,-0.222,-0.301,-0.398,-0.523,-0.699,-1,-1.046,-1.097,-1.155,-1.222,-1.301,-1.398,-1.523,-1.699,-2,-2.046,-2.097,-2.155,-2.222,-2.301,-2.398,-2.523,-2.699],"labels":false,"tickSize":-4,"title":null}}}},
 {"data":{"name":"a2fit"},"mark":{"type":"line","color":"#b8478a","strokeWidth":3.5,"interpolate":"monotone","clip":true},
  "encoding":{"x":{"field":"t","type":"quantitative","axis":null},"y":{"field":"lgI","type":"quantitative"}}},
 {"data":{"values":[{"label":"600-720 nm"}]},"mark":{"type":"text","align":"right","baseline":"top","dx":-8,"dy":5,"fontSize":19},
  "encoding":{"x":{"datum":40,"type":"quantitative","axis":null},"y":{"datum":0,"type":"quantitative"},"text":{"field":"label"}}},
 {"data":{"values":[{"label":"dU(600)-chl"}]},"mark":{"type":"text","align":"left","baseline":"alphabetic","dx":10,"dy":-7,"fontSize":21},
  "encoding":{"x":{"datum":3.2,"type":"quantitative","axis":null},"y":{"datum":-2.91,"type":"quantitative"},"text":{"field":"label"}}}
]},
{"width":69,"height":131,"data":{"values":[]},"mark":"point","view":{"stroke":null}},
{"width":212,"height":131,"data":{"name":"a3"},"mark":{"type":"point","shape":"square","filled":false,"size":40,"stroke":"#222","strokeWidth":1,"clip":true},
 "encoding":{"x":{"field":"t","type":"quantitative","scale":{"domain":[4.5,40],"nice":false,"zero":false},"axis":null},
  "y":{"field":"res","type":"quantitative","scale":{"domain":[-0.03,0.03],"nice":false,"zero":false},"axis":{"values":[-0.03,-0.015,0,0.015,0.03],"labelExpr":"datum.value === 0.015 || datum.value === -0.015 ? '' : (datum.value < 0 ? '-' : '') + format(abs(datum.value), '.2f')","tickSize":-3,"labelPadding":17,"labelFontSize":22,"title":null}}}},

{"width":308,"height":131,"layer":[
 {"data":{"name":"b1"},"mark":{"type":"point","shape":"square","filled":false,"size":72,"stroke":"#222","strokeWidth":1,"clip":true},
  "encoding":{"x":{"field":"t","type":"quantitative","scale":{"domain":[3.1,40],"nice":false,"zero":false},"axis":null},
   "y":{"field":"lgI","type":"quantitative","scale":{"domain":[-2.91,0],"nice":false,"zero":false},"axis":{"values":[0,-0.046,-0.097,-0.155,-0.222,-0.301,-0.398,-0.523,-0.699,-1,-1.046,-1.097,-1.155,-1.222,-1.301,-1.398,-1.523,-1.699,-2,-2.046,-2.097,-2.155,-2.222,-2.301,-2.398,-2.523,-2.699],"labels":false,"tickSize":-4,"title":"(b)","titleAngle":0,"titleX":-76,"titleY":56,"titleAlign":"center","titleBaseline":"middle","titleFontSize":27,"titleFont":"DejaVu Sans"}}}},
 {"data":{"values":[{"label":"440-500 nm"}]},"mark":{"type":"text","align":"right","baseline":"top","dx":-4,"dy":5,"fontSize":19},
  "encoding":{"x":{"datum":40,"type":"quantitative","axis":null},"y":{"datum":0,"type":"quantitative"},"text":{"field":"label"}}},
 {"data":{"values":[{"label":"tU(3000)-chl"}]},"mark":{"type":"text","align":"left","baseline":"alphabetic","dx":8,"dy":-7,"fontSize":21},
  "encoding":{"x":{"datum":3.1,"type":"quantitative","axis":null},"y":{"datum":-2.91,"type":"quantitative"},"text":{"field":"label"}}}
]},
{"width":306,"height":131,"layer":[
 {"data":{"name":"b2"},"mark":{"type":"point","shape":"square","filled":false,"size":72,"stroke":"#222","strokeWidth":1,"clip":true},
  "encoding":{"x":{"field":"t","type":"quantitative","scale":{"domain":[3.2,40],"nice":false,"zero":false},"axis":null},
   "y":{"field":"lgI","type":"quantitative","scale":{"domain":[-2.91,0],"nice":false,"zero":false},"axis":{"values":[0,-0.046,-0.097,-0.155,-0.222,-0.301,-0.398,-0.523,-0.699,-1,-1.046,-1.097,-1.155,-1.222,-1.301,-1.398,-1.523,-1.699,-2,-2.046,-2.097,-2.155,-2.222,-2.301,-2.398,-2.523,-2.699],"labels":false,"tickSize":-4,"title":"Normalized Intensity","titleAngle":270,"titleX":-359,"titleY":130,"titleAlign":"center","titleBaseline":"middle","titleFontSize":29}}}},
 {"data":{"name":"b2fit"},"mark":{"type":"line","color":"#b8478a","strokeWidth":3.5,"interpolate":"monotone","clip":true},
  "encoding":{"x":{"field":"t","type":"quantitative","axis":null},"y":{"field":"lgI","type":"quantitative"}}},
 {"data":{"values":[{"label":"600-720 nm"}]},"mark":{"type":"text","align":"right","baseline":"top","dx":-8,"dy":5,"fontSize":19},
  "encoding":{"x":{"datum":40,"type":"quantitative","axis":null},"y":{"datum":0,"type":"quantitative"},"text":{"field":"label"}}},
 {"data":{"values":[{"label":"tU(3000)-chl"}]},"mark":{"type":"text","align":"left","baseline":"alphabetic","dx":8,"dy":-7,"fontSize":21},
  "encoding":{"x":{"datum":3.2,"type":"quantitative","axis":null},"y":{"datum":-2.91,"type":"quantitative"},"text":{"field":"label"}}}
]},
{"width":69,"height":131,"data":{"values":[]},"mark":"point","view":{"stroke":null}},
{"width":212,"height":131,"data":{"name":"b3"},"mark":{"type":"point","shape":"square","filled":false,"size":40,"stroke":"#222","strokeWidth":1,"clip":true},
 "encoding":{"x":{"field":"t","type":"quantitative","scale":{"domain":[4.5,40],"nice":false,"zero":false},"axis":null},
  "y":{"field":"res","type":"quantitative","scale":{"domain":[-0.03,0.03],"nice":false,"zero":false},"axis":{"values":[-0.03,-0.015,0,0.015,0.03],"labelExpr":"datum.value === 0.015 || datum.value === -0.015 ? '' : (datum.value < 0 ? '-' : '') + format(abs(datum.value), '.2f')","tickSize":-3,"labelPadding":17,"labelFontSize":22,"title":"Regular Residual","titleAngle":270,"titleX":-84,"titleY":142,"titleAlign":"center","titleBaseline":"middle","titleFontSize":40}}}},

{"width":308,"height":131,"layer":[
 {"data":{"name":"c1"},"mark":{"type":"point","shape":"square","filled":false,"size":72,"stroke":"#222","strokeWidth":1,"clip":true},
  "encoding":{"x":{"field":"t","type":"quantitative","scale":{"domain":[3.1,40],"nice":false,"zero":false},"axis":null},
   "y":{"field":"lgI","type":"quantitative","scale":{"domain":[-2.91,0],"nice":false,"zero":false},"axis":{"values":[0,-0.046,-0.097,-0.155,-0.222,-0.301,-0.398,-0.523,-0.699,-1,-1.046,-1.097,-1.155,-1.222,-1.301,-1.398,-1.523,-1.699,-2,-2.046,-2.097,-2.155,-2.222,-2.301,-2.398,-2.523,-2.699],"labels":false,"tickSize":-4,"title":"(c)","titleAngle":0,"titleX":-76,"titleY":56,"titleAlign":"center","titleBaseline":"middle","titleFontSize":27,"titleFont":"DejaVu Sans"}}}},
 {"data":{"values":[{"label":"440-500 nm"}]},"mark":{"type":"text","align":"right","baseline":"top","dx":-4,"dy":5,"fontSize":19},
  "encoding":{"x":{"datum":40,"type":"quantitative","axis":null},"y":{"datum":0,"type":"quantitative"},"text":{"field":"label"}}},
 {"data":{"values":[{"label":"tU(5000)-chl"}]},"mark":{"type":"text","align":"left","baseline":"alphabetic","dx":8,"dy":-7,"fontSize":21},
  "encoding":{"x":{"datum":3.1,"type":"quantitative","axis":null},"y":{"datum":-2.91,"type":"quantitative"},"text":{"field":"label"}}}
]},
{"width":306,"height":131,"layer":[
 {"data":{"name":"c2"},"mark":{"type":"point","shape":"square","filled":false,"size":72,"stroke":"#222","strokeWidth":1,"clip":true},
  "encoding":{"x":{"field":"t","type":"quantitative","scale":{"domain":[3.2,40],"nice":false,"zero":false},"axis":null},
   "y":{"field":"lgI","type":"quantitative","scale":{"domain":[-2.91,0],"nice":false,"zero":false},"axis":{"values":[0,-0.046,-0.097,-0.155,-0.222,-0.301,-0.398,-0.523,-0.699,-1,-1.046,-1.097,-1.155,-1.222,-1.301,-1.398,-1.523,-1.699,-2,-2.046,-2.097,-2.155,-2.222,-2.301,-2.398,-2.523,-2.699],"labels":false,"tickSize":-4,"title":null}}}},
 {"data":{"name":"c2fit"},"mark":{"type":"line","color":"#8f8fd0","strokeWidth":3.5,"interpolate":"monotone","clip":true},
  "encoding":{"x":{"field":"t","type":"quantitative","axis":null},"y":{"field":"lgI","type":"quantitative"}}},
 {"data":{"values":[{"label":"600-720 nm"}]},"mark":{"type":"text","align":"right","baseline":"top","dx":-8,"dy":5,"fontSize":19},
  "encoding":{"x":{"datum":40,"type":"quantitative","axis":null},"y":{"datum":0,"type":"quantitative"},"text":{"field":"label"}}},
 {"data":{"values":[{"label":"tU(5000)-chl"}]},"mark":{"type":"text","align":"left","baseline":"alphabetic","dx":8,"dy":-7,"fontSize":21},
  "encoding":{"x":{"datum":3.2,"type":"quantitative","axis":null},"y":{"datum":-2.91,"type":"quantitative"},"text":{"field":"label"}}}
]},
{"width":69,"height":131,"data":{"values":[]},"mark":"point","view":{"stroke":null}},
{"width":212,"height":131,"data":{"name":"c3"},"mark":{"type":"point","shape":"square","filled":false,"size":40,"stroke":"#222","strokeWidth":1,"clip":true},
 "encoding":{"x":{"field":"t","type":"quantitative","scale":{"domain":[4.5,40],"nice":false,"zero":false},"axis":null},
  "y":{"field":"res","type":"quantitative","scale":{"domain":[-0.07,0.07],"nice":false,"zero":false},"axis":{"values":[-0.07,-0.035,0,0.035,0.07],"labelExpr":"datum.value === 0.035 || datum.value === -0.035 ? '' : (datum.value < 0 ? '-' : '') + format(abs(datum.value), '.2f')","tickSize":-3,"labelPadding":17,"labelFontSize":22,"title":null}}}},

{"width":308,"height":131,"layer":[
 {"data":{"name":"d1"},"mark":{"type":"point","shape":"square","filled":false,"size":72,"stroke":"#222","strokeWidth":1,"clip":true},
  "encoding":{"x":{"field":"t","type":"quantitative","scale":{"domain":[3.1,40],"nice":false,"zero":false},"axis":{"values":[5,10,15,20,25,30,35,40],"labelExpr":"datum.value % 10 === 0 ? datum.label : ''","tickSize":4,"labelPadding":1,"labelFontSize":27,"title":"Time (ns)","titleFontSize":29,"titlePadding":13}},
   "y":{"field":"lgI","type":"quantitative","scale":{"domain":[-2.91,0],"nice":false,"zero":false},"axis":{"values":[0,-0.046,-0.097,-0.155,-0.222,-0.301,-0.398,-0.523,-0.699,-1,-1.046,-1.097,-1.155,-1.222,-1.301,-1.398,-1.523,-1.699,-2,-2.046,-2.097,-2.155,-2.222,-2.301,-2.398,-2.523,-2.699],"labels":false,"tickSize":-4,"title":"(d)","titleAngle":0,"titleX":-76,"titleY":56,"titleAlign":"center","titleBaseline":"middle","titleFontSize":27,"titleFont":"DejaVu Sans"}}}},
 {"data":{"values":[{"label":"440-500 nm"}]},"mark":{"type":"text","align":"right","baseline":"top","dx":-4,"dy":5,"fontSize":19},
  "encoding":{"x":{"datum":40,"type":"quantitative"},"y":{"datum":0,"type":"quantitative"},"text":{"field":"label"}}},
 {"data":{"values":[{"label":"tU(440)-chl"}]},"mark":{"type":"text","align":"left","baseline":"alphabetic","dx":7,"dy":-9,"fontSize":21},
  "encoding":{"x":{"datum":3.1,"type":"quantitative"},"y":{"datum":-2.91,"type":"quantitative"},"text":{"field":"label"}}}
]},
{"width":306,"height":131,"layer":[
 {"data":{"name":"d2"},"mark":{"type":"point","shape":"square","filled":false,"size":72,"stroke":"#222","strokeWidth":1,"clip":true},
  "encoding":{"x":{"field":"t","type":"quantitative","scale":{"domain":[3.2,40],"nice":false,"zero":false},"axis":{"values":[5,10,15,20,25,30,35,40],"labelExpr":"datum.value % 10 === 0 ? datum.label : ''","tickSize":4,"labelPadding":1,"labelFontSize":27,"title":"Time (ns)","titleFontSize":29,"titlePadding":13}},
   "y":{"field":"lgI","type":"quantitative","scale":{"domain":[-2.91,0],"nice":false,"zero":false},"axis":{"values":[0,-0.046,-0.097,-0.155,-0.222,-0.301,-0.398,-0.523,-0.699,-1,-1.046,-1.097,-1.155,-1.222,-1.301,-1.398,-1.523,-1.699,-2,-2.046,-2.097,-2.155,-2.222,-2.301,-2.398,-2.523,-2.699],"labels":false,"tickSize":-4,"title":null}}}},
 {"data":{"name":"d2fit"},"mark":{"type":"line","color":"#6d88d4","strokeWidth":3.5,"interpolate":"monotone","clip":true},
  "encoding":{"x":{"field":"t","type":"quantitative"},"y":{"field":"lgI","type":"quantitative"}}},
 {"data":{"values":[{"label":"600-720 nm"}]},"mark":{"type":"text","align":"right","baseline":"top","dx":-8,"dy":5,"fontSize":19},
  "encoding":{"x":{"datum":40,"type":"quantitative"},"y":{"datum":0,"type":"quantitative"},"text":{"field":"label"}}},
 {"data":{"values":[{"label":"tU(440)-chl"}]},"mark":{"type":"text","align":"left","baseline":"alphabetic","dx":8,"dy":-9,"fontSize":21},
  "encoding":{"x":{"datum":3.2,"type":"quantitative"},"y":{"datum":-2.91,"type":"quantitative"},"text":{"field":"label"}}}
]},
{"width":69,"height":131,"data":{"values":[]},"mark":"point","view":{"stroke":null}},
{"width":212,"height":131,"data":{"name":"d3"},"mark":{"type":"point","shape":"square","filled":false,"size":40,"stroke":"#222","strokeWidth":1,"clip":true},
 "encoding":{"x":{"field":"t","type":"quantitative","scale":{"domain":[4.5,40],"nice":false,"zero":false},"axis":{"values":[10,20,30,40],"ticks":false,"labelPadding":9,"labelFontSize":25,"title":"Independent Variable","titleFontSize":30,"titleX":71,"titleY":57,"titleAlign":"center","titleBaseline":"middle"}},
  "y":{"field":"res","type":"quantitative","scale":{"domain":[-0.07,0.07],"nice":false,"zero":false},"axis":{"values":[-0.07,-0.035,0,0.035,0.07],"labelExpr":"datum.value === 0.035 || datum.value === -0.035 ? '' : (datum.value < 0 ? '-' : '') + format(abs(datum.value), '.2f')","tickSize":-3,"labelPadding":17,"labelFontSize":22,"title":null}}}}
]
}
